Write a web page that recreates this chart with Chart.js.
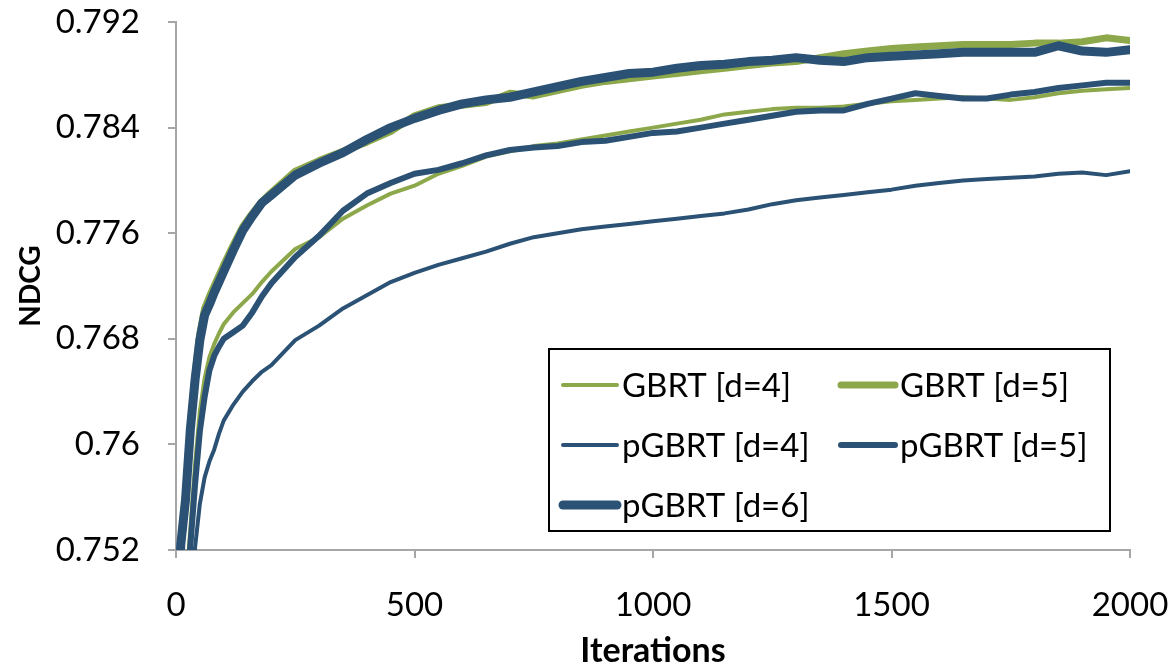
<!DOCTYPE html>
<html>
<head>
<meta charset="utf-8">
<script src="https://cdn.jsdelivr.net/npm/chart.js@4"></script>
<style>
  html, body { margin: 0; padding: 0; background: #fff; }
  #wrap { width: 1173px; height: 668px; }
</style>
</head>
<body>
<div id="wrap"><canvas id="ndcgChart" width="1173" height="668"></canvas></div>
<script>
// data

let iterations = [0, 10, 20, 30, 40, 50, 60, 70, 80, 90, 100, 120, 140, 160, 180, 200,
  250, 300, 350, 400, 450, 500, 550, 600, 650, 700, 750, 800, 850, 900, 950, 1000,
  1050, 1100, 1150, 1200, 1250, 1300, 1350, 1400, 1450, 1500, 1550, 1600, 1650, 1700,
  1750, 1800, 1850, 1900, 1950, 2000];

let gbrtD4 = [0.737, 0.743, 0.749, 0.7535, 0.7585, 0.7625, 0.7650, 0.7666, 0.7676, 0.7684, 0.7691, 0.7700, 0.7707, 0.7714, 0.7723, 0.7731,
  0.7748, 0.7757, 0.7771, 0.7781, 0.7790, 0.7796, 0.7805, 0.7811, 0.7818, 0.7822, 0.7826, 0.7828, 0.7831, 0.7834, 0.7837, 0.7840,
  0.7843, 0.7846, 0.7850, 0.7852, 0.7854, 0.7855, 0.7855, 0.7856, 0.7858, 0.7860, 0.7861, 0.7862, 0.7863, 0.7862,
  0.7861, 0.7863, 0.7866, 0.7868, 0.7869, 0.7870];

let gbrtD5 = [0.745, 0.7526, 0.7562, 0.7614, 0.7653, 0.7684, 0.7703, 0.7712, 0.7720, 0.7728, 0.7736, 0.7751, 0.7765, 0.7775, 0.7784, 0.7791,
  0.7807, 0.7815, 0.7822, 0.7829, 0.7837, 0.7849, 0.7855, 0.7857, 0.7859, 0.7866, 0.7864, 0.7868, 0.7872, 0.7875, 0.7877, 0.7879,
  0.7881, 0.7883, 0.7885, 0.7887, 0.7889, 0.7890, 0.7893, 0.7896, 0.7898, 0.7900, 0.7901, 0.7902, 0.7903, 0.7903,
  0.7903, 0.7904, 0.7904, 0.7905, 0.7908, 0.7906];

let pgbrtD4 = [0.730, 0.737, 0.743, 0.748, 0.7522, 0.7555, 0.7575, 0.7587, 0.7596, 0.7608, 0.7618, 0.7630, 0.7640, 0.7648, 0.7655, 0.7660,
  0.7679, 0.7690, 0.7703, 0.7713, 0.7723, 0.7730, 0.7736, 0.7741, 0.7746, 0.7752, 0.7757, 0.7760, 0.7763, 0.7765, 0.7767, 0.7769,
  0.7771, 0.7773, 0.7775, 0.7778, 0.7782, 0.7785, 0.7787, 0.7789, 0.7791, 0.7793, 0.7796, 0.7798, 0.7800, 0.7801,
  0.7802, 0.7803, 0.7805, 0.7806, 0.7804, 0.7807];

let pgbrtD5 = [0.735, 0.742, 0.748, 0.7523, 0.7570, 0.7610, 0.7636, 0.7656, 0.7667, 0.7674, 0.7680, 0.7685, 0.7690, 0.7700, 0.7712, 0.7722,
  0.7742, 0.7758, 0.7777, 0.7790, 0.7798, 0.7805, 0.7808, 0.7813, 0.7819, 0.7823, 0.7825, 0.7826, 0.7829, 0.7830, 0.7833, 0.7836,
  0.7837, 0.7840, 0.7843, 0.7846, 0.7849, 0.7852, 0.7853, 0.7853, 0.7858, 0.7862, 0.7866, 0.7864, 0.7862, 0.7862,
  0.7865, 0.7867, 0.7870, 0.7872, 0.7874, 0.7874];

let pgbrtD6 = [0.745, 0.7524, 0.7558, 0.7611, 0.7649, 0.7679, 0.7698, 0.7706, 0.7715, 0.7723, 0.7731, 0.7747, 0.7762, 0.7773, 0.7783, 0.7789,
  0.7804, 0.7813, 0.7821, 0.7831, 0.7840, 0.7847, 0.7853, 0.7858, 0.7861, 0.7863, 0.7867, 0.7871, 0.7875, 0.7878, 0.7881, 0.7882,
  0.7885, 0.7887, 0.7888, 0.7890, 0.7891, 0.7893, 0.7891, 0.7890, 0.7893, 0.7894, 0.7895, 0.7896, 0.7897, 0.7897,
  0.7897, 0.7897, 0.7902, 0.7898, 0.7897, 0.7899];

let yTicks = [0.752, 0.76, 0.768, 0.776, 0.784, 0.792];
let xTicks = [0, 500, 1000, 1500, 2000];

let green = '#8DA84B';
let blue = '#2B5274';
let axisGray = '#A6A6A6';
let fontName = 'Lato, "Open Sans", sans-serif';

function points(values) {
  return iterations.map((it, i) => ({ x: it, y: values[i] }));
}

// tick labels may hang outside, the plot area stays where the padding puts it
function noOverhang(scale) {
  scale.paddingTop = 0;
  scale.paddingBottom = 0;
  scale.paddingLeft = 0;
  scale.paddingRight = 0;
}

// legend grid, as in the picture (2 columns)
let legendRows = [[0, 1], [2, 3], [4]];

let boxLegend = {
  id: 'boxLegend',
  afterDraw(chart) {
    let ctx = chart.ctx;
    let ds = chart.data.datasets;
    let box = { left: 549, top: 349, width: 561, height: 182 };
    ctx.save();
    ctx.fillStyle = '#fff';
    ctx.fillRect(box.left, box.top, box.width, box.height);
    ctx.strokeStyle = '#000';
    ctx.lineWidth = 2;
    ctx.strokeRect(box.left, box.top, box.width, box.height);
    ctx.font = '33px ' + fontName;
    ctx.textBaseline = 'middle';
    ctx.lineCap = 'round';
    legendRows.forEach((row, r) => {
      let y = box.top + 36 + r * 60;
      row.forEach((idx, c) => {
        let x = box.left + 14 + c * 278;
        ctx.strokeStyle = ds[idx].borderColor;
        ctx.lineWidth = ds[idx].borderWidth;
        ctx.beginPath();
        ctx.moveTo(x, y);
        ctx.lineTo(x + 54, y);
        ctx.stroke();
        ctx.fillStyle = '#000';
        ctx.fillText(ds[idx].label, x + 59, y + 1);
      });
    });
    ctx.restore();
  }
};

let ctx = document.getElementById('ndcgChart').getContext('2d');

let myChart = new Chart(ctx, {
  type: 'line',
  data: {
    datasets: [
      { label: 'GBRT [d=4]', data: points(gbrtD4), borderColor: green, borderWidth: 4, order: 5 },
      { label: 'GBRT [d=5]', data: points(gbrtD5), borderColor: green, borderWidth: 7, order: 4 },
      { label: 'pGBRT [d=4]', data: points(pgbrtD4), borderColor: blue, borderWidth: 4, order: 3 },
      { label: 'pGBRT [d=5]', data: points(pgbrtD5), borderColor: blue, borderWidth: 6, order: 2 },
      { label: 'pGBRT [d=6]', data: points(pgbrtD6), borderColor: blue, borderWidth: 9, order: 1 }
    ]
  },
  options: {
    responsive: false,
    animation: false,
    clip: 0,
    layout: { padding: { top: 22, right: 43, left: 0, bottom: 0 } },
    elements: {
      point: { radius: 0 },
      line: { tension: 0, borderJoinStyle: 'round', borderCapStyle: 'round' }
    },
    plugins: {
      legend: { display: false },
      tooltip: { enabled: false }
    },
    scales: {
      x: {
        type: 'linear',
        min: 0,
        max: 2000,
        afterFit: (scale) => { scale.height = 118; noOverhang(scale); },
        afterBuildTicks: (scale) => { scale.ticks = xTicks.map(v => ({ value: v })); },
        ticks: {
          color: '#000',
          font: { family: fontName, size: 33 },
          padding: 28,
          maxRotation: 0,
          callback: (v) => String(v)
        },
        grid: { drawOnChartArea: false, drawTicks: true, tickLength: 8, color: axisGray, lineWidth: 2 },
        border: { display: true, color: axisGray, width: 2 },
        title: {
          display: true,
          text: 'Iterations',
          color: '#000',
          font: { family: fontName, size: 34, weight: 'bold', lineHeight: 1 },
          padding: 0
        }
      },
      y: {
        min: 0.752,
        max: 0.792,
        afterFit: (scale) => { scale.width = 176; noOverhang(scale); },
        afterBuildTicks: (scale) => { scale.ticks = yTicks.map(v => ({ value: v })); },
        ticks: {
          color: '#000',
          font: { family: fontName, size: 33 },
          padding: 28,
          callback: (v) => String(Number(v.toFixed(3)))
        },
        grid: { drawOnChartArea: false, drawTicks: true, tickLength: 8, color: axisGray, lineWidth: 2 },
        border: { display: true, color: axisGray, width: 2 },
        title: {
          display: true,
          text: 'NDCG',
          color: '#000',
          font: { family: fontName, size: 28, weight: 'bold', lineHeight: 1 },
          padding: { top: 17, bottom: 0 }
        }
      }
    }
  },
  plugins: [boxLegend]
});
</script>
</body>
</html>
